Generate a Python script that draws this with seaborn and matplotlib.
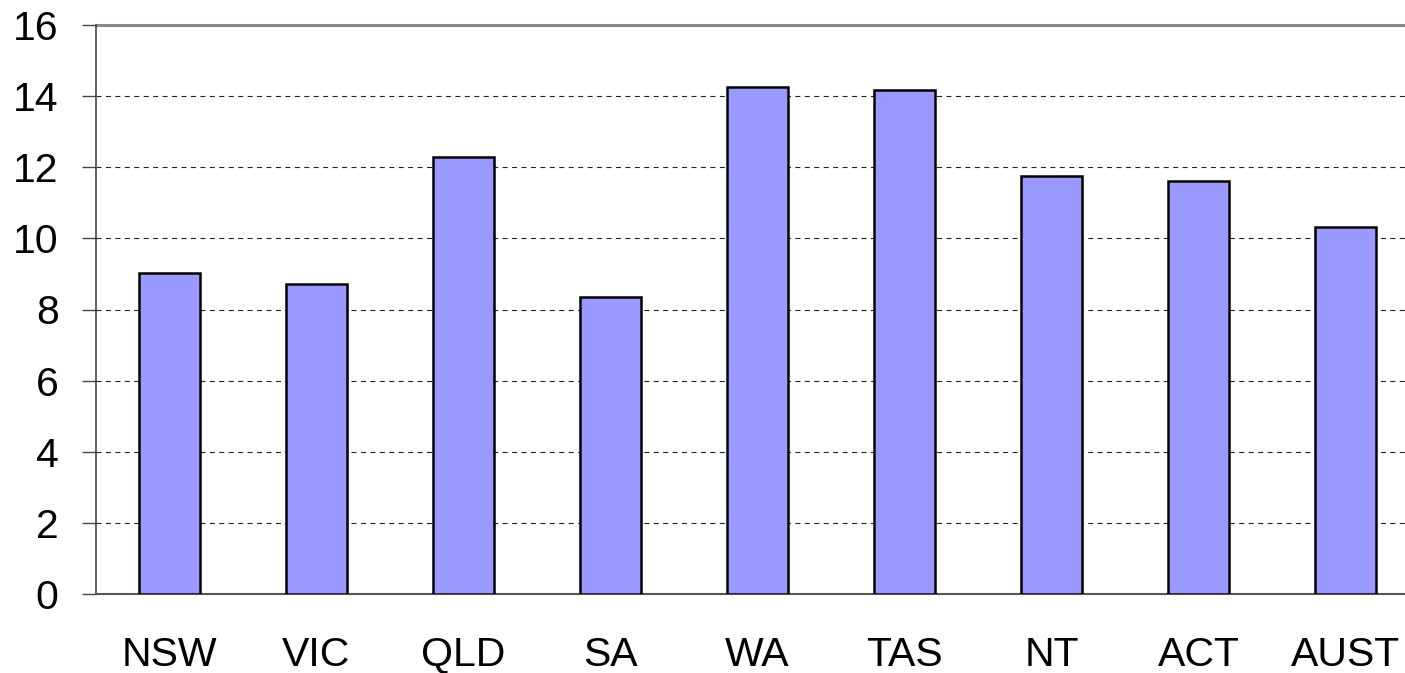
import matplotlib
matplotlib.use("Agg")
import matplotlib.pyplot as plt
import seaborn as sns
import pandas as pd

categories = ["NSW", "VIC", "QLD", "SA", "WA", "TAS", "NT", "ACT", "AUST"]
values = [9.03, 8.72, 12.29, 8.35, 14.26, 14.17, 11.75, 11.61, 10.32]
yticks = [0, 2, 4, 6, 8, 10, 12, 14, 16]

sns.set_style("white")
plt.rcParams["font.family"] = ["Liberation Sans", "DejaVu Sans"]
plt.rcParams["text.color"] = "black"
plt.rcParams["xtick.color"] = "black"
plt.rcParams["ytick.color"] = "black"

df = pd.DataFrame({"state": categories, "value": values})

fig = plt.figure(figsize=(14.05, 6.73), dpi=100)
ax = fig.add_axes([96 / 1405, 1 - 594 / 673, (1419 - 96) / 1405, (594 - 25) / 673])

sns.barplot(data=df, x="state", y="value", order=categories, color="#9999FF",
            saturation=1, width=0.42, edgecolor="black", linewidth=1.8, ax=ax, zorder=3)

ax.set_xlim(-0.5, 8.5)
ax.set_ylim(0, 16)
ax.set_yticks(yticks)
ax.set_yticklabels([str(t) for t in yticks])
for t in yticks[1:-1]:
    ax.axhline(t, color="#222222", linestyle=(0, (4.5, 4)), linewidth=0.8, zorder=1)
ax.axhline(16, color="#888888", linewidth=2.2, zorder=2, clip_on=False)

ax.set_xlabel("")
ax.set_ylabel("")
for s in ["top", "right"]:
    ax.spines[s].set_visible(False)
ax.spines["left"].set_color("#444444")
ax.spines["left"].set_linewidth(1.2)
ax.spines["bottom"].set_color("#555555")
ax.spines["bottom"].set_linewidth(1.5)

ax.tick_params(axis="y", which="major", direction="out", length=10, width=1, color="#444444",
               labelsize=29.5, pad=17, left=True, labelcolor="black")
ax.tick_params(axis="x", length=0, labelsize=29.5, pad=30, labelcolor="black")

fig.savefig("out.png", dpi=100)
